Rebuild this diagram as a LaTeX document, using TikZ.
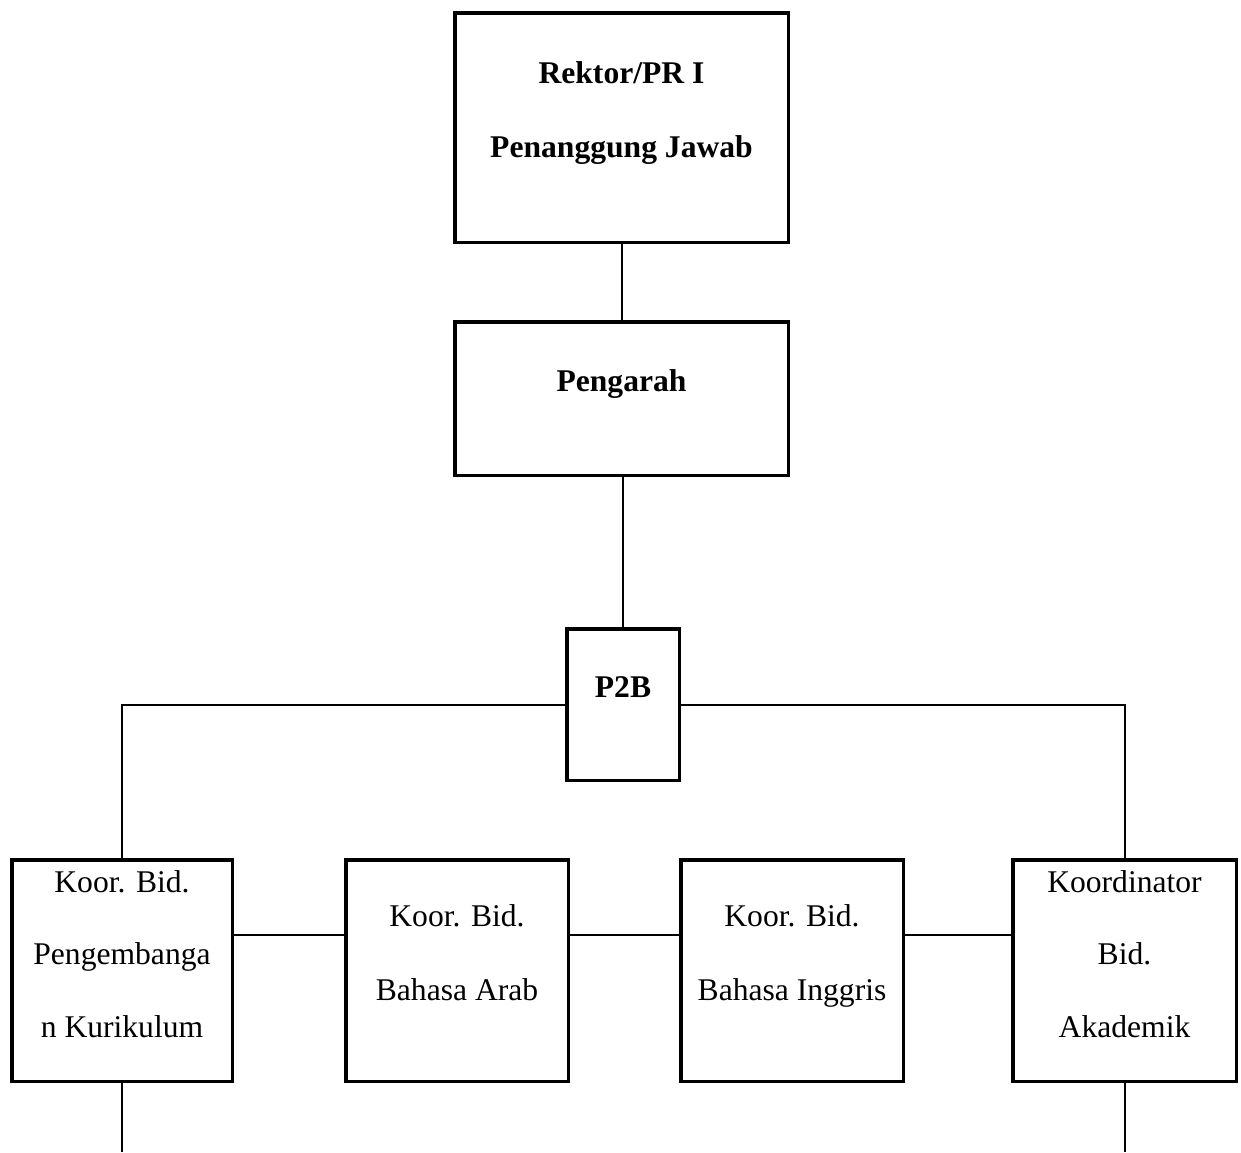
\documentclass[tikz,border=0pt]{standalone}
\usepackage{fontspec}
\setmainfont{Liberation Serif}
\begin{document}
\begin{tikzpicture}[x=1pt,y=-1pt,
  box/.style={draw=black, line width=3.5pt, rectangle, inner sep=0pt, fill=white},
  txt/.style={anchor=base, inner sep=0pt, font=\fontsize{31.6}{38}\selectfont},
  btxt/.style={txt, font=\fontsize{31.6}{38}\selectfont\bfseries},
  conn/.style={draw=black, line width=2pt}]
\useasboundingbox (0,0) rectangle (1241,1152);
\fill[white] (0,0) rectangle (1241,1152);
% boxes
\node[box, minimum width=333.5pt, minimum height=229.5pt] (top) at (621.5,127.5) {};
\node[box, minimum width=333.5pt, minimum height=153.5pt] (peng) at (621.5,398.5) {};
\node[box, minimum width=112.5pt, minimum height=151.5pt] (p2b) at (623,704.5) {};
\node[box, minimum width=220.5pt, minimum height=221.5pt] (b1) at (122,970.5) {};
\node[box, minimum width=222.5pt, minimum height=221.5pt] (b2) at (457,970.5) {};
\node[box, minimum width=222.5pt, minimum height=221.5pt] (b3) at (792,970.5) {};
\node[box, minimum width=223.5pt, minimum height=221.5pt] (b4) at (1124.5,970.5) {};
% helper coordinates
\coordinate (hy) at (0,935);
\coordinate (bot) at (0,1152);
% connectors
\draw[conn] (top.south) -- (peng.north);
\draw[conn] (peng.south -| p2b.north) -- (p2b.north);
\draw[conn] (p2b.west) -- (b1.north |- p2b.west) -- (b1.north);
\draw[conn] (p2b.east) -- (b4.north |- p2b.east) -- (b4.north);
\draw[conn] (b1.east |- hy) -- (b2.west |- hy);
\draw[conn] (b2.east |- hy) -- (b3.west |- hy);
\draw[conn] (b3.east |- hy) -- (b4.west |- hy);
\draw[conn] (b1.south) -- (b1.south |- bot);
\draw[conn] (b4.south) -- (b4.south |- bot);
% texts
\node[btxt] (t1) at (621.5,83) {Rektor/PR I};
\node[btxt] (t2) at (621.5,157) {Penanggung Jawab};
\node[btxt] (t3) at (621.5,391) {Pengarah};
\node[btxt] (t4) at (623,697) {P2B};
\node[txt] (b1a) at (122,892) {Koor. Bid.};
\node[txt] (b1b) at (122,964.5) {Pengembanga};
\node[txt] (b1c) at (122,1037) {n Kurikulum};
\node[txt] (b2a) at (457,926) {Koor. Bid.};
\node[txt] (b2b) at (457,1000) {Bahasa Arab};
\node[txt] (b3a) at (792,926) {Koor. Bid.};
\node[txt] (b3b) at (792,1000) {Bahasa Inggris};
\node[txt] (b4a) at (1124.5,892) {Koordinator};
\node[txt] (b4b) at (1124.5,964.5) {Bid.};
\node[txt] (b4c) at (1124.5,1037) {Akademik};
\end{tikzpicture}
\end{document}
